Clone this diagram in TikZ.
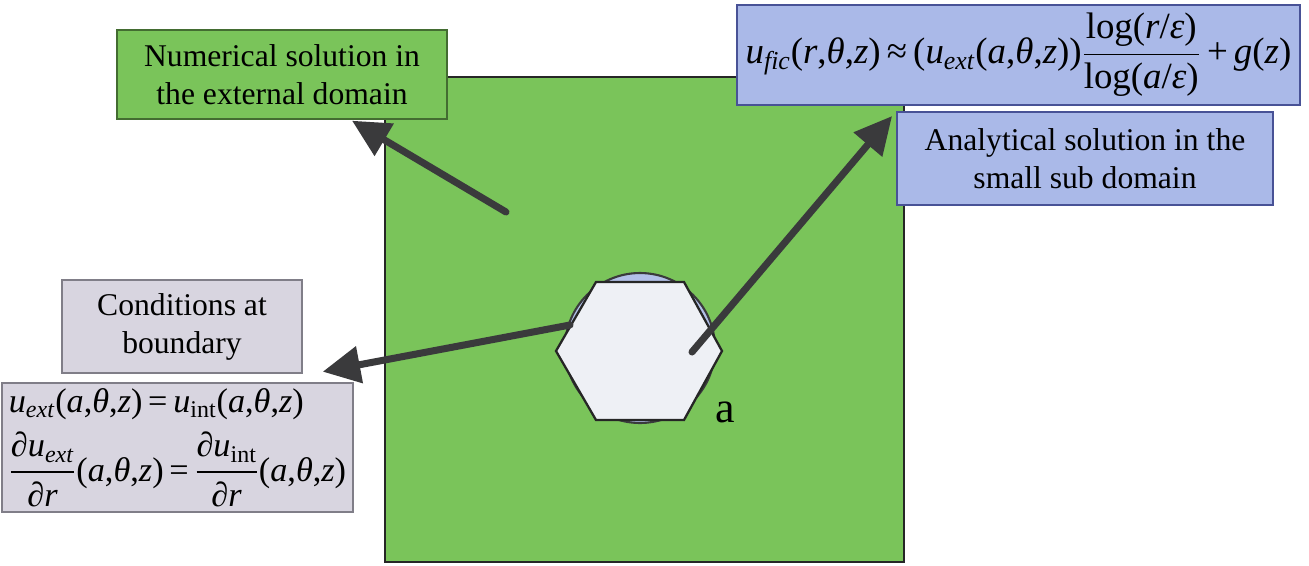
\documentclass[tikz,border=0pt]{standalone}
\usepackage{amsmath}
\usepackage{fontspec}
\setmainfont{Liberation Serif}
\usepackage{tikz}
\usetikzlibrary{arrows.meta}

\definecolor{domgreen}{RGB}{122,196,90}
\definecolor{boxblue}{RGB}{170,185,232}
\definecolor{boxblueline}{RGB}{72,82,150}
\definecolor{boxgray}{RGB}{216,213,224}
\definecolor{boxgrayline}{RGB}{128,126,136}
\definecolor{holeblue}{RGB}{178,192,232}
\definecolor{hexfill}{RGB}{238,240,245}
\definecolor{arrowgray}{RGB}{58,58,60}

\newcommand{\vi}[1]{\textit{#1}}

\begin{document}
\begin{tikzpicture}[x=0.02cm, y=-0.02cm, >={Triangle[length=0.75cm,width=0.72cm]},
  every node/.style={font=\fontsize{18}{21.6}\selectfont, inner sep=0pt, align=center},
  greenbox/.style={draw=domgreen!55!black, fill=domgreen, line width=0.8pt},
  bluebox/.style={draw=boxblueline, fill=boxblue, line width=1.1pt},
  graybox/.style={draw=boxgrayline, fill=boxgray, line width=0.8pt},
  pointer/.style={->, draw=arrowgray, line width=4pt, line cap=round}]
\useasboundingbox (0,0) rectangle (1309,565);
% domain with the small sub domain
\node[draw=black!85, fill=domgreen, line width=1pt, minimum width=10.38cm, minimum height=9.7cm] (dom) at (644.5,319.5) {};
\node[circle, draw=arrowgray, fill=holeblue, line width=1.2pt, minimum size=3cm] (hole) at (640,348) {};
\draw[draw=black!85, fill=hexfill, line width=1.3pt] (596,282) -- (684,282) -- (722,351) -- (684,420) -- (596,420) -- (556,351) -- cycle;
\node[font=\fontsize{25}{28}\selectfont] (lbla) at (725,412) {a};
% labels
\node[greenbox, minimum width=6.6cm, minimum height=1.78cm] (num) at (282,74.5) {Numerical solution in\\the external domain};
\node[bluebox, minimum width=11.26cm, minimum height=2cm, font=\fontsize{21}{25}\selectfont] (fic) at (1018.5,55)
  {\vi{u}\textsubscript{\vi{fic}}(\vi{r},\vi{θ},\vi{z})\,≈\,(\vi{u}\textsubscript{\vi{ext}}(\vi{a},\vi{θ},\vi{z}))$\dfrac{\text{log(\vi{r}/\vi{ε})}}{\text{log(\vi{a}/\vi{ε})}}$\,+\,\vi{g}(\vi{z})};
\node[bluebox, minimum width=7.52cm, minimum height=1.86cm] (ana) at (1085,158.5) {Analytical solution in the\\small sub domain};
\node[graybox, minimum width=4.8cm, minimum height=1.86cm] (cond) at (182,326.5) {Conditions at\\boundary};
\node[graybox, minimum width=7.02cm, minimum height=2.58cm, align=left, font=\fontsize{19.5}{23}\selectfont] (cont) at (177.5,447.5)
  {\vi{u}\textsubscript{\vi{ext}}(\vi{a},\vi{θ},\vi{z})\,=\,\vi{u}\textsubscript{int}(\vi{a},\vi{θ},\vi{z})\\[6pt]
   $\dfrac{\text{∂\vi{u}\textsubscript{\vi{ext}}}}{\text{∂\vi{r}}}$(\vi{a},\vi{θ},\vi{z})\,=\,$\dfrac{\text{∂\vi{u}\textsubscript{int}}}{\text{∂\vi{r}}}$(\vi{a},\vi{θ},\vi{z})};
% arrows
\coordinate (numtail) at (506,212);
\coordinate (fictail) at (692,352);
\coordinate (condtail) at (570,325);
\draw[pointer] (numtail) -- ([shift={(70,1)}]num.south);
\draw[pointer] (fictail) -- ([shift={(-4,5)}]ana.north west);
\draw[pointer] (condtail) -- ([shift={(20,-2)}]cond.south east);
\end{tikzpicture}
\end{document}
